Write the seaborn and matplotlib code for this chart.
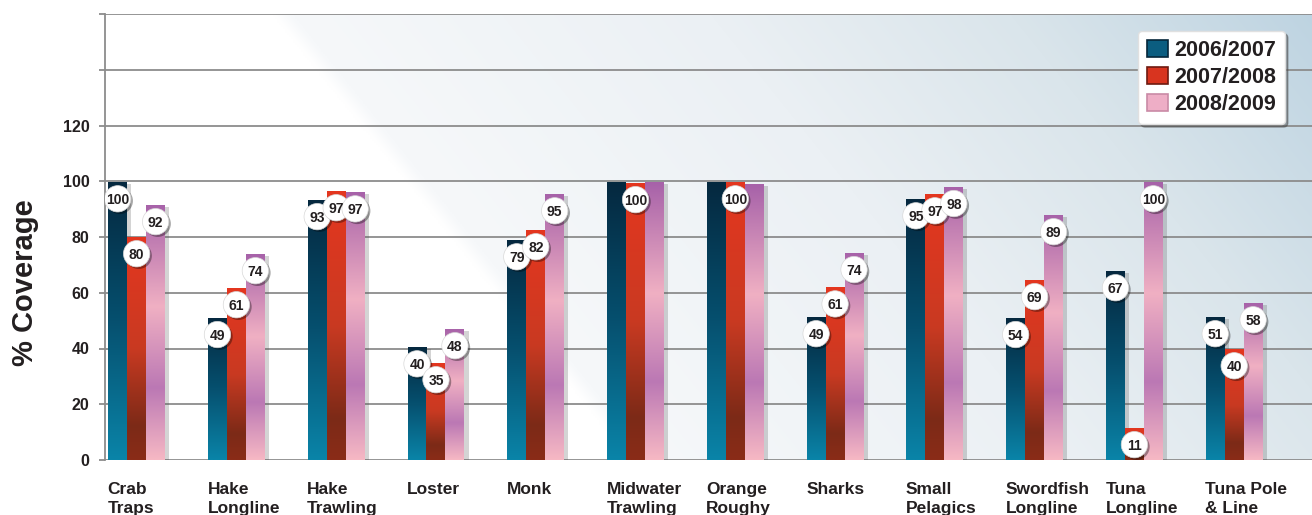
import numpy as np
import pandas as pd
import matplotlib
matplotlib.use("Agg")
import matplotlib.pyplot as plt
import seaborn as sns
from matplotlib.patches import Patch
from matplotlib.colors import to_rgb
from matplotlib.transforms import ScaledTranslation
import matplotlib.patheffects as pe

# ---------------- data ----------------
categories = ["Crab\nTraps", "Hake\nLongline", "Hake\nTrawling", "Loster", "Monk",
              "Midwater\nTrawling", "Orange\nRoughy", "Sharks", "Small\nPelagics",
              "Swordfish\nLongline", "Tuna\nLongline", "Tuna Pole\n& Line"]
seasons = ["2006/2007", "2007/2008", "2008/2009"]

# bar heights as drawn
cov_0607 = [99.7, 51.0, 93.3, 40.5, 78.9, 99.7, 99.7, 51.3, 93.6, 51.0, 67.8, 51.3]
cov_0708 = [80.0, 61.7, 96.5, 34.8, 82.5, 99.4, 99.7, 62.0, 95.4, 64.6, 11.5, 39.8]
cov_0809 = [91.5, 73.9, 96.1, 47.0, 95.4, 99.7, 99.0, 74.3, 98.0, 87.9, 99.7, 56.3]

# printed value labels (None = no label)
lab_0607 = [100, 49, 93, 40, 79, None, None, 49, 95, 54, 67, 51]
lab_0708 = [80, 61, 97, 35, 82, 100, 100, 61, 97, 69, 11, 40]
lab_0809 = [92, 74, 97, 48, 95, None, None, 74, 98, 89, 100, 58]

y_ticks = [0, 20, 40, 60, 80, 100, 120, 140, 160]
y_tick_labels = ["0", "20", "40", "60", "80", "100", "120", "", ""]

# ---------------- style ----------------
sns.set_theme(style="white")
plt.rcParams['font.family'] = ['Liberation Sans', 'DejaVu Sans']
TXT = "#231f20"

W, H = 1312, 515
fig = plt.figure(figsize=(W / 100, H / 100), dpi=100)
ax = fig.add_axes([105 / W, 1 - 460 / H, 1 - 105 / W, (460 - 14) / H])

df = pd.DataFrame({
    "Fishery": categories * 3,
    "Season": [seasons[0]] * 12 + [seasons[1]] * 12 + [seasons[2]] * 12,
    "Coverage": cov_0607 + cov_0708 + cov_0809,
})

palette = {"2006/2007": "#0b5d80", "2007/2008": "#d8341f", "2008/2009": "#eeaec6"}
sns.barplot(data=df, x="Fishery", y="Coverage", hue="Season", order=categories,
            hue_order=seasons, palette=palette, width=0.57, saturation=1,
            legend=False, ax=ax, linewidth=0, edgecolor="none", errorbar=None)

XMIN, XMAX = -0.317, 11.78
ax.set_xlim(XMIN, XMAX)
ax.set_ylim(0, 160)

# background gradient inside the axes
nx, ny = 600, 220
xs = np.linspace(105, 1312, nx)
ys = np.linspace(14, 460, ny)
X, Y = np.meshgrid(xs, ys)
T = X - 0.8 * Y
st_t = [0, 262, 280, 700, 1000, 1310]
st_c = [to_rgb(c) for c in ['#ffffff', '#ffffff', '#f6f8fa', '#ebf0f4', '#dae5eb', '#bdd3e1']]
bg = np.zeros((ny, nx, 3))
for k in range(3):
    bg[..., k] = np.interp(T, st_t, [c[k] for c in st_c])
ax.imshow(bg, extent=(0, 1, 0, 1), transform=ax.transAxes, aspect='auto',
          origin='upper', zorder=0, interpolation='bilinear')

# bar gradients
grad_stops = [
    ([0, 0.5, 1.0], ['#05283f', '#06506f', '#0a84a8']),
    ([0, 0.5, 0.85, 1.0], ['#e4361f', '#c93a22', '#7c2a17', '#8a2c18']),
    ([0, 0.4, 0.72, 1.0], ['#a762a9', '#f0b0c3', '#bb78b4', '#f6b8c4']),
]
labels_all = [lab_0607, lab_0708, lab_0809]
step = 0.57 / 3
bars = list(ax.patches)
for bar in bars:
    x0 = bar.get_x()
    w = bar.get_width()
    h = bar.get_height()
    cx = x0 + w / 2
    idx = int(round(cx))
    hue = int(round((cx - idx) / step)) + 1
    bar.set_path_effects([pe.withSimplePatchShadow(offset=(3, -1.5), shadow_rgbFace='#555555', alpha=0.25)])
    pos, cols = grad_stops[hue]
    tt = np.linspace(0, 1, 128)
    g = np.zeros((128, 1, 3))
    rgb = [to_rgb(c) for c in cols]
    for k in range(3):
        g[:, 0, k] = np.interp(tt, pos, [c[k] for c in rgb])
    im = ax.imshow(g, extent=(x0, x0 + w, 0, h), aspect='auto', origin='upper',
                   zorder=bar.get_zorder() + 0.1, interpolation='bilinear')
    im.set_clip_path(bar)
    lab = labels_all[hue][idx]
    if lab is not None:
        ly = h - 6
        ax.scatter([cx], [ly], s=360, c='white', edgecolors='#d8d8d8', linewidths=0.5,
                   zorder=6, path_effects=[pe.withSimplePatchShadow(offset=(1.5, -1.5), shadow_rgbFace='black', alpha=0.35)])
        ax.text(cx, ly, str(lab), ha='center', va='center_baseline', fontsize=10,
                fontweight='bold', color=TXT, zorder=7)

ax.set_xlim(XMIN, XMAX)
ax.set_ylim(0, 160)

# axes styling
ax.set_axisbelow(True)
ax.yaxis.grid(True, color='#8c8c8c', linewidth=1.3)
ax.xaxis.grid(False)
for s in ['top', 'right', 'bottom']:
    ax.spines[s].set_visible(False)
ax.spines['left'].set_color('#8c8c8c')
ax.spines['left'].set_linewidth(1.3)

ax.set_yticks(y_ticks)
ax.set_yticklabels(y_tick_labels, fontsize=11.5, fontweight='bold', color=TXT)
ax.tick_params(axis='y', length=4, width=1.3, color='#8c8c8c', pad=7, left=True)

ax.set_xticks(range(len(categories)))
ax.set_xticklabels(categories, fontsize=12.5, fontweight='bold', color=TXT, ha='left',
                   va='top', linespacing=1.3)
ax.tick_params(axis='x', length=0, pad=16)
off = ScaledTranslation(-0.29, 0, fig.dpi_scale_trans)
for t in ax.get_xticklabels():
    t.set_transform(t.get_transform() + off)
ax.set_xlabel("")
ax.set_ylabel("")

fig.text(25 / W, 1 - 283 / H, "% Coverage", rotation=90, ha='center', va='center',
         fontsize=21, fontweight='bold', color=TXT)

# legend
edge_cols = ['#06263a', '#6e1a10', '#c98aa6']
handles = [Patch(facecolor=palette[s], edgecolor=e, linewidth=1.2) for s, e in zip(seasons, edge_cols)]
leg = ax.legend(handles, seasons, loc='upper right', bbox_to_anchor=(1285 / W, 1 - 31 / H),
                bbox_transform=fig.transFigure, prop={'weight': 'bold', 'size': 15.5},
                frameon=True, fancybox=True, shadow=True, borderpad=0.42, labelspacing=0.28,
                handlelength=0.95, handleheight=0.85, handletextpad=0.3, borderaxespad=0)
leg.get_frame().set_facecolor('white')
leg.get_frame().set_edgecolor('#e0e0e0')
leg.get_frame().set_alpha(1)
for t in leg.get_texts():
    t.set_color(TXT)
leg.set_zorder(10)

fig.savefig("out.png", dpi=100)
